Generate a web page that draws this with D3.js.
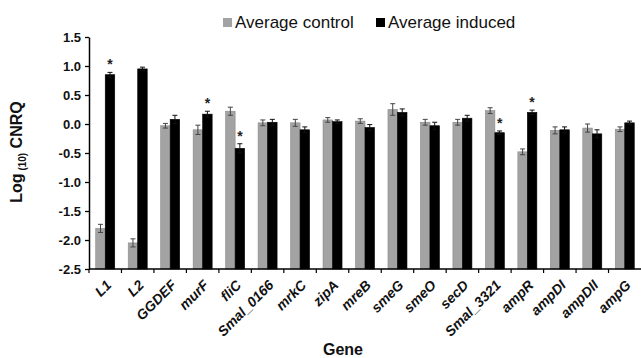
<!DOCTYPE html>
<html>
<head>
<meta charset="utf-8">
<script src="https://cdn.jsdelivr.net/npm/d3@7"></script>
<style>
  body { margin: 0; background: #fff; }
  svg { display: block; font-family: "Liberation Sans", Arial, sans-serif; }
</style>
</head>
<body>
<div id="chart-area"></div>
<script>
// values
var genes = ["L1","L2","GGDEF","murF","fliC","Smal_0166","mrkC","zipA","mreB","smeG","smeO","secD","Smal_3321","ampR","ampDI","ampDII","ampG"];
var control = [-1.80,-2.05,-0.03,-0.10,0.22,0.02,0.02,0.07,0.05,0.25,0.03,0.03,0.23,-0.48,-0.11,-0.07,-0.09];
var controlErr = [0.07,0.07,0.04,0.08,0.07,0.05,0.06,0.04,0.04,0.10,0.05,0.05,0.05,0.05,0.06,0.07,0.04];
var induced = [0.85,0.95,0.08,0.17,-0.42,0.03,-0.10,0.04,-0.06,0.20,-0.03,0.10,-0.15,0.20,-0.10,-0.17,0.02];
var inducedErr = [0.04,0.03,0.07,0.05,0.08,0.05,0.05,0.03,0.05,0.06,0.06,0.05,0.03,0.04,0.05,0.07,0.03];
var signif = ["L1","murF","fliC","Smal_3321","ampR"];
var yTicks = [1.5,1.0,0.5,0.0,-0.5,-1.0,-1.5,-2.0,-2.5];
var series = ["Average control","Average induced"];
var colors = ["#a3a3a3","#000000"];

var W = 641, H = 358;
var margin = {left:89, right:0, top:37, bottom:89};

var svg = d3.select("#chart-area")
	.append("svg")
		.attr("width",W)
		.attr("height",H);

var x = d3.scaleBand()
	.domain(genes)
	.range([margin.left, W - margin.right]);

var y = d3.scaleLinear()
	.domain([-2.5,1.5])
	.range([H - margin.bottom, margin.top]);

var half = 9.5;
var xSub = d3.scaleBand()
	.domain(series)
	.range([x.bandwidth()/2 - half, x.bandwidth()/2 + half]);

var rows = genes.map(function(g,i){
	return {gene:g, vals:[
		{s:series[0], v:control[i], e:controlErr[i], c:colors[0]},
		{s:series[1], v:induced[i], e:inducedErr[i], c:colors[1]}
	]};
});

var base = y(-2.5);

var grp = svg.selectAll(".gene")
	.data(rows)
	.enter().append("g")
		.attr("transform",function(d){ return "translate("+x(d.gene)+",0)"; });

grp.selectAll("rect")
	.data(function(d){ return d.vals; })
	.enter().append("rect")
		.attr("x",function(d){ return xSub(d.s); })
		.attr("width",xSub.bandwidth())
		.attr("y",function(d){ return y(d.v); })
		.attr("height",function(d){ return base - y(d.v); })
		.attr("fill",function(d){ return d.c; })
		.attr("stroke",function(d,i){ return i==0 ? "#8a8a8a" : "#000"; })
		.attr("stroke-width",0.6);

// error bars
var eb = grp.selectAll(".err")
	.data(function(d){ return d.vals; })
	.enter().append("g")
		.attr("stroke",function(d,i){ return i==0 ? "#444" : "#111"; })
		.attr("stroke-width",1);

eb.append("line")
	.attr("x1",function(d){ return xSub(d.s)+xSub.bandwidth()/2; })
	.attr("x2",function(d){ return xSub(d.s)+xSub.bandwidth()/2; })
	.attr("y1",function(d){ return y(d.v+d.e); })
	.attr("y2",function(d){ return y(d.v-d.e); });
[1,-1].forEach(function(sg){
	eb.append("line")
		.attr("x1",function(d){ return xSub(d.s)+xSub.bandwidth()/2-2.5; })
		.attr("x2",function(d){ return xSub(d.s)+xSub.bandwidth()/2+2.5; })
		.attr("y1",function(d){ return y(d.v+sg*d.e); })
		.attr("y2",function(d){ return y(d.v+sg*d.e); });
});

// significance stars
grp.filter(function(d){ return signif.indexOf(d.gene) >= 0; })
	.append("text")
		.attr("x",xSub(series[1])+xSub.bandwidth()/2)
		.attr("y",function(d){ var v = d.vals[1]; return y(Math.max(v.v+v.e, v.v)) - 3; })
		.attr("text-anchor","middle")
		.attr("font-size","14px")
		.attr("font-weight","bold")
		.attr("fill","#222")
		.text("*");

// y axis
var yAxis = svg.append("g")
	.attr("transform","translate("+margin.left+",0)")
	.call(d3.axisLeft(y).tickValues(yTicks).tickFormat(d3.format(".1f")).tickSize(4).tickSizeOuter(0));
yAxis.select(".domain").attr("stroke","#000").attr("stroke-width",1.5);
yAxis.selectAll(".tick line").attr("stroke","#000").attr("stroke-width",1.3);
yAxis.selectAll("text")
	.attr("font-size","13px")
	.attr("font-weight","bold")
	.attr("font-family","Liberation Sans, Arial, sans-serif")
	.attr("fill","#111")
	.attr("x",-8)
	.text(function(d){ return d3.format(".1f")(d).replace("−","-"); });

// x axis
var xAxis = svg.append("g")
	.attr("transform","translate(0,"+base+")")
	.call(d3.axisBottom(x).tickSize(0).tickSizeOuter(0));
xAxis.select(".domain").attr("stroke","#000").attr("stroke-width",1.5)
	.attr("d","M"+margin.left+",0H"+W);
xAxis.selectAll(".sep")
	.data(genes)
	.enter().append("line")
		.attr("x1",function(d){ return x(d); })
		.attr("x2",function(d){ return x(d); })
		.attr("y1",0).attr("y2",4)
		.attr("stroke","#000").attr("stroke-width",1.2);
xAxis.selectAll(".tick text")
	.attr("font-size","14px")
	.attr("font-weight","bold")
	.attr("font-style","italic")
	.attr("font-family","Liberation Sans, Arial, sans-serif")
	.attr("fill","#111")
	.attr("text-anchor","end")
	.attr("dy",0)
	.attr("y",0)
	.attr("transform","translate(7,17) rotate(-45)");

// axis titles
svg.append("text")
	.attr("transform","translate(22,152) rotate(-90)")
	.attr("text-anchor","middle")
	.attr("font-size","16px")
	.attr("font-weight","bold")
	.attr("fill","#111")
	.call(function(t){
		t.append("tspan").text("Log");
		t.append("tspan").attr("font-size","10px").attr("dy",4).text(" (10)");
		t.append("tspan").attr("dy",-4).text(" CNRQ");
	});

svg.append("text")
	.attr("x",343)
	.attr("y",355)
	.attr("text-anchor","middle")
	.attr("font-size","16px")
	.attr("font-weight","bold")
	.attr("fill","#111")
	.text("Gene");

// legend
var legX = [223, 376];
var leg = svg.selectAll(".leg")
	.data(series)
	.enter().append("g")
		.attr("transform",function(d,i){ return "translate("+legX[i]+",18)"; });
leg.append("rect")
	.attr("width",9).attr("height",9)
	.attr("fill",function(d,i){ return colors[i]; });
leg.append("text")
	.attr("x",12)
	.attr("y",9.5)
	.attr("font-size","17px")
	.attr("fill","#111")
	.text(function(d){ return d; });
</script>
</body>
</html>
